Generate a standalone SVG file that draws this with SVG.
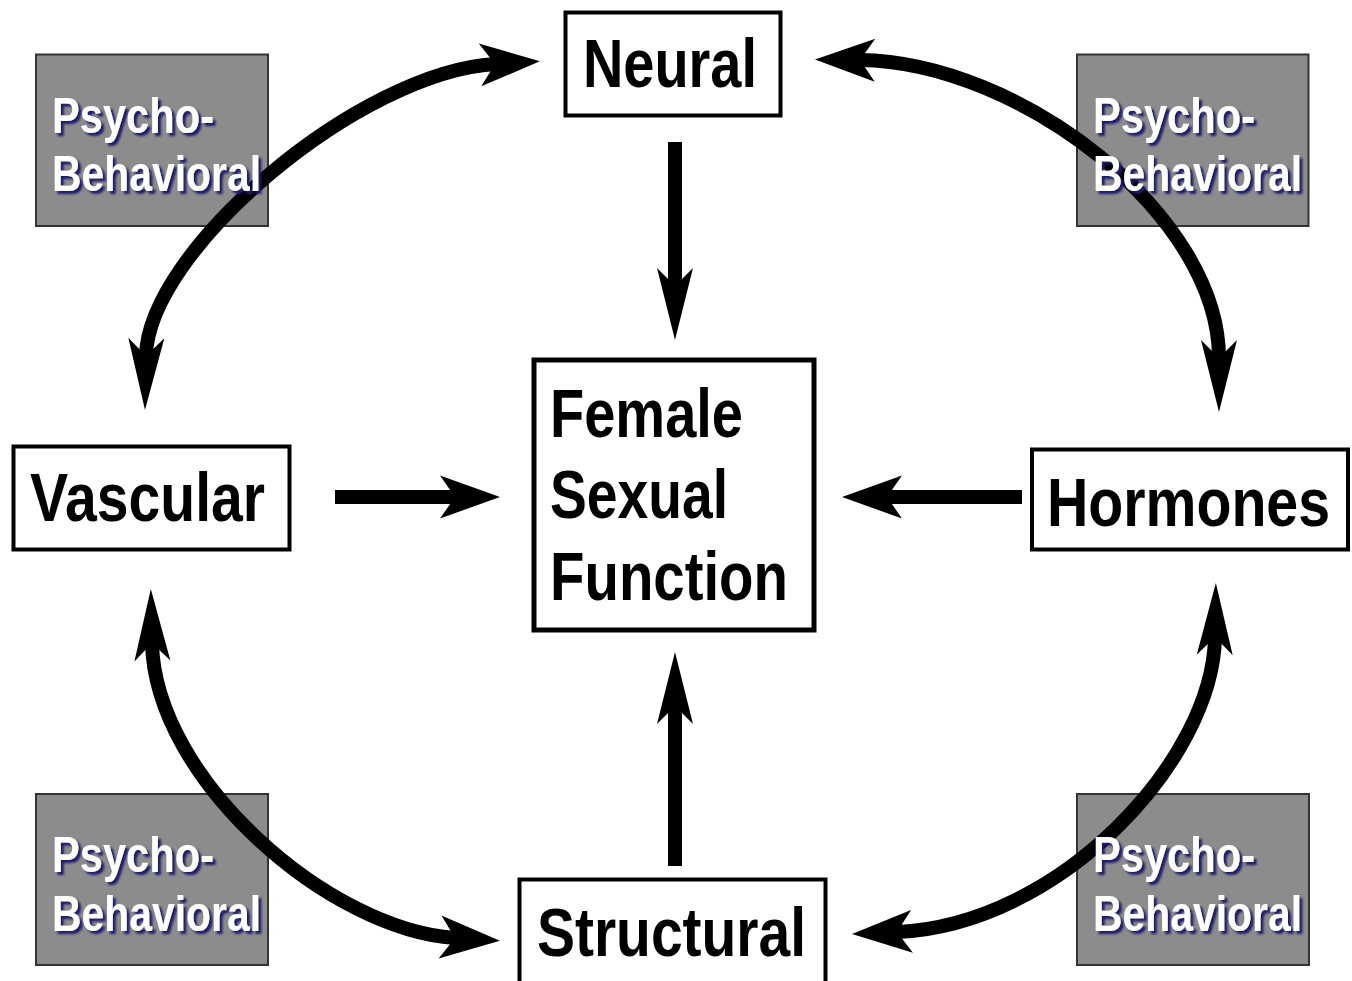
<svg xmlns="http://www.w3.org/2000/svg" width="1352" height="981" viewBox="0 0 1352 981">
<style>
.box rect{fill:#fff;stroke:#000;stroke-width:4}
.box text{font-family:"Liberation Sans",Arial,sans-serif;font-weight:bold;font-size:68px;fill:#000}
.psy rect{fill:#8c8c8c;stroke:#333;stroke-width:2;mix-blend-mode:multiply}
.psy text{font-family:"Liberation Sans",Arial,sans-serif;font-weight:bold;font-size:50px;fill:#fff;filter:url(#sh)}
.conn path{fill:none;stroke:#000;stroke-width:14}
.hd{fill:#000}
</style>
<defs>
<filter id="sh" x="-10%" y="-20%" width="130%" height="160%">
<feDropShadow dx="3" dy="3" stdDeviation="1" flood-color="#1a1a70" flood-opacity="1"/>
</filter>
<marker id="hh" markerUnits="userSpaceOnUse" markerWidth="80" markerHeight="60" viewBox="-20 -30 80 60" refX="0" refY="0" orient="auto-start-reverse" overflow="visible">
<path class="hd" d="M45,0 L-15,-21.5 L0,0 L-15,21.5 Z"/>
</marker>
<marker id="hv" markerUnits="userSpaceOnUse" markerWidth="80" markerHeight="60" viewBox="-20 -30 80 60" refX="0" refY="0" orient="auto-start-reverse" overflow="visible">
<path class="hd" d="M54,0 L-18,-18 L0,0 L-18,18 Z"/>
</marker>
</defs>
<rect x="0" y="0" width="1352" height="981" fill="#fff"/>
<g id="connectors" class="conn">
<path d="M675,142 L675,286" marker-end="url(#hv)"/>
<path d="M675,866 L675,706" marker-end="url(#hv)"/>
<path d="M335,497 L455,497" marker-end="url(#hh)"/>
<path d="M1022,497 L887,497" marker-end="url(#hh)"/>
<path d="M146,356 C148,250 360,72 495,64" marker-start="url(#hv)" marker-end="url(#hh)"/>
<path d="M860,60 C1020,62 1219,215 1219,358" marker-start="url(#hh)" marker-end="url(#hv)"/>
<path d="M152,643 C155,780 330,930 455,938" marker-start="url(#hv)" marker-end="url(#hh)"/>
<path d="M1215,637 C1213,760 1060,925 897,932" marker-start="url(#hv)" marker-end="url(#hh)"/>
</g>
<g id="neural" class="box">
<rect x="565.5" y="12.5" width="215" height="103"/>
<text x="583" y="87" textLength="174" lengthAdjust="spacingAndGlyphs">Neural</text>
</g>
<g id="female-sexual-function" class="box">
<rect x="534" y="360" width="280" height="270" style="stroke-width:5"/>
<text x="550" y="437" textLength="193" lengthAdjust="spacingAndGlyphs">Female</text>
<text x="550" y="518" textLength="178" lengthAdjust="spacingAndGlyphs">Sexual</text>
<text x="550" y="600" textLength="238" lengthAdjust="spacingAndGlyphs">Function</text>
</g>
<g id="vascular" class="box">
<rect x="13.5" y="446.5" width="276" height="103"/>
<text x="30" y="521" textLength="235" lengthAdjust="spacingAndGlyphs">Vascular</text>
</g>
<g id="hormones" class="box">
<rect x="1032" y="449.5" width="316" height="100"/>
<text x="1047" y="526" textLength="283" lengthAdjust="spacingAndGlyphs">Hormones</text>
</g>
<g id="structural" class="box">
<rect x="519.5" y="879.5" width="306" height="110"/>
<text x="537" y="956" textLength="269" lengthAdjust="spacingAndGlyphs">Structural</text>
</g>
<g id="psycho-tl" class="psy">
<rect x="36" y="54.5" width="232" height="171.5"/>
<text x="52" y="133" textLength="162" lengthAdjust="spacingAndGlyphs">Psycho-</text>
<text x="52" y="191" textLength="209" lengthAdjust="spacingAndGlyphs">Behavioral</text>
</g>
<g id="psycho-tr" class="psy">
<rect x="1077" y="54.5" width="231.5" height="171.5"/>
<text x="1093" y="133" textLength="162" lengthAdjust="spacingAndGlyphs">Psycho-</text>
<text x="1093" y="191" textLength="209" lengthAdjust="spacingAndGlyphs">Behavioral</text>
</g>
<g id="psycho-bl" class="psy">
<rect x="36" y="794" width="232" height="171"/>
<text x="52" y="872" textLength="162" lengthAdjust="spacingAndGlyphs">Psycho-</text>
<text x="52" y="931" textLength="209" lengthAdjust="spacingAndGlyphs">Behavioral</text>
</g>
<g id="psycho-br" class="psy">
<rect x="1077" y="794" width="232" height="171"/>
<text x="1093" y="872" textLength="162" lengthAdjust="spacingAndGlyphs">Psycho-</text>
<text x="1093" y="931" textLength="209" lengthAdjust="spacingAndGlyphs">Behavioral</text>
</g>
</svg>
